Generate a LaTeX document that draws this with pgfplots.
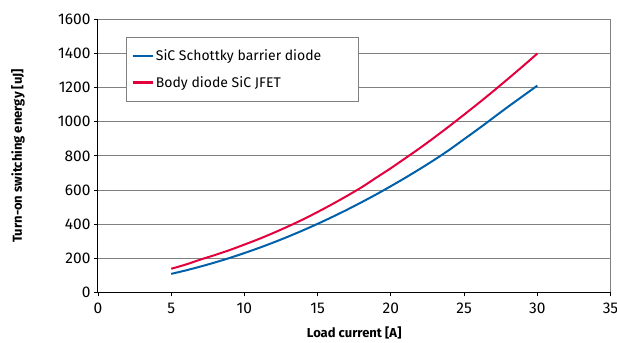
\documentclass[border=0pt]{standalone}
\usepackage{fontspec}
\setmainfont{Fira Sans}
\usepackage{pgfplots}
\pgfplotsset{compat=1.18}
\definecolor{sbdblue}{RGB}{0,96,170}
\definecolor{jfetred}{RGB}{227,0,60}
\definecolor{gridgray}{RGB}{128,128,128}
\begin{document}
\begin{tikzpicture}
\useasboundingbox (-98pt,-49.7pt) rectangle (519pt,292.3pt);
\begin{axis}[
  at={(0,0)}, anchor=south west,
  scale only axis, width=512.5pt, height=272.8pt,
  xmin=0, xmax=35, ymin=0, ymax=1600,
  xtick={0,5,...,35}, ytick={0,200,...,1600},
  axis x line=bottom, axis y line=left,
  axis line style={black, line width=1pt, -},
  tick align=outside, major tick length=4pt,
  tick style={black, line width=0.8pt},
  ymajorgrids, grid style={gridgray, line width=0.8pt},
  extra x ticks={35}, extra x tick labels={},
  extra x tick style={grid=major, major grid style={gridgray,line width=0.8pt}, major tick length=0pt},
  /pgf/number format/assume math mode=true,
  /pgf/number format/1000 sep={},
  ticklabel style={font=\fontsize{15.5}{18}\selectfont},
  xticklabel style={yshift=-3pt},
  xlabel={Load current [A]},
  ylabel={Turn-on switching energy [uJ]},
  every axis x label/.style={at={(axis description cs:0.5,-0.150)}, anchor=center, font=\fontsize{13}{16}\selectfont\bfseries},
  every axis y label/.style={at={(axis description cs:-0.156,0.5)}, rotate=90, anchor=center, font=\fontsize{13}{16}\selectfont\bfseries},
  legend style={at={(axis description cs:0.0546,0.936)}, anchor=north west,
    draw=gridgray, line width=0.8pt, fill=white,
    font=\fontsize{14}{17}\selectfont,
    inner xsep=5pt, inner ysep=10.5pt,
    row sep=10pt},
  legend cell align=left,
  legend image code/.code={\draw[#1, line width=2.5pt] (0pt,0pt) -- (20pt,0pt);},
]
\addplot[sbdblue, line width=2pt, smooth] coordinates {
 (5,108) (6,128.5) (7,151) (8,175.4) (9,201.8) (10,230.2) (11,260.5) (12,292.8)
 (13,327.1) (14,363.4) (15,401.6) (16,441.8) (17,483.9) (18,528.2) (19,574.2)
 (20,622.4) (21,672.4) (22,724.4) (23,778.5) (24,836) (25,898) (26,960)
 (27,1024) (28,1088) (29,1150) (30,1212)
};
\addlegendentry{SiC Schottky barrier diode\hspace*{30pt}}
\addplot[jfetred, line width=2pt, smooth] coordinates {
 (5,138) (6,163) (7,192) (8,219) (9,248) (10,280) (11,313) (12,349) (13,387)
 (14,427.5) (15,471.1) (16,517) (17,565.2) (18,615.7) (19,672) (20,728)
 (21,787) (22,847) (23,910) (24,975) (25,1042) (26,1110) (27,1180)
 (28,1252) (29,1325) (30,1400)
};
\addlegendentry{Body diode SiC JFET}
\end{axis}
\end{tikzpicture}
\end{document}
